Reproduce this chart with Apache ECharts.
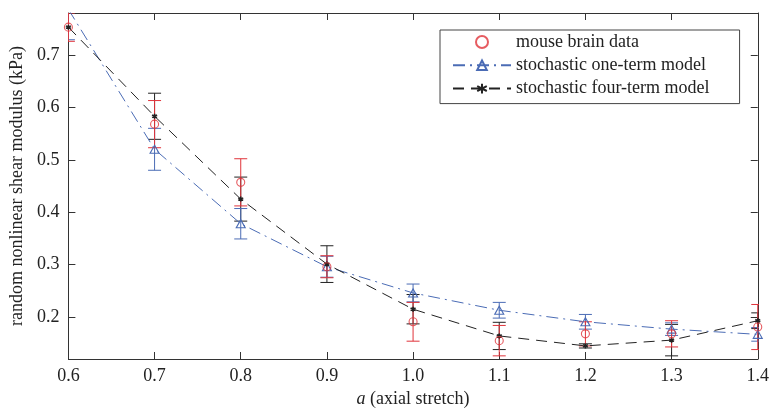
<!DOCTYPE html>
<html>
<head>
<meta charset="utf-8">
<script src="https://cdn.jsdelivr.net/npm/echarts@6/dist/echarts.min.js"></script>
<style>html,body{margin:0;padding:0;background:#fff;}#c{width:772px;height:413px;}</style>
</head>
<body>
<div id="c"></div>
<script>
const xVals = [0.6, 0.7, 0.8, 0.9, 1.0, 1.1, 1.2, 1.3, 1.4];
const dataMean = [0.753, 0.568, 0.457, 0.296, 0.191, 0.155, 0.168, 0.168, 0.181];
const dataErr  = [0.027, 0.045, 0.045, 0.021, 0.037, 0.029, 0.023, 0.025, 0.043];
const oneMean  = [0.787, 0.520, 0.378, 0.296, 0.246, 0.213, 0.191, 0.177, 0.167];
const oneErr   = [0.058, 0.040, 0.029, 0.020, 0.017, 0.015, 0.014, 0.012, 0.013];
const fourMean = [0.753, 0.583, 0.425, 0.301, 0.215, 0.164, 0.145, 0.156, 0.193];
const fourErr  = [0.000, 0.044, 0.042, 0.035, 0.028, 0.026, 0.004, 0.030, 0.015];
const xTicks = [0.6, 0.7, 0.8, 0.9, 1.0, 1.1, 1.2, 1.3, 1.4];
const yTicks = [0.2, 0.3, 0.4, 0.5, 0.6, 0.7];

const RED = '#e0333a', BLUE = '#4b6cb5', BLACK = '#222222';
const FONT = 'Liberation Serif';
const ASTER = 'path://M0,-5L0,5M-4.33,-2.5L4.33,2.5M-4.33,2.5L4.33,-2.5';

function errSeries(color, means, errs) {
  const data = xVals.map((x, i) => [x, means[i] - errs[i], means[i] + errs[i], errs[i]]);
  return {
    type: 'custom', silent: true, clip: true, z: 1,
    data: data,
    encode: { x: 0, y: [1, 2] },
    renderItem: function (params, api) {
      if (api.value(3) <= 0) return null;
      const x = api.value(0);
      const p1 = api.coord([x, api.value(2)]);
      const p2 = api.coord([x, api.value(1)]);
      const hw = 6.5;
      const st = { stroke: color, lineWidth: 1 };
      return { type: 'group', children: [
        { type: 'line', shape: { x1: p1[0], y1: p1[1], x2: p2[0], y2: p2[1] }, style: st },
        { type: 'line', shape: { x1: p1[0] - hw, y1: p1[1], x2: p1[0] + hw, y2: p1[1] }, style: st },
        { type: 'line', shape: { x1: p2[0] - hw, y1: p2[1], x2: p2[0] + hw, y2: p2[1] }, style: st }
      ]};
    }
  };
}

const axisCommon = {
  axisLine: { show: true, lineStyle: { color: '#333', width: 1 } },
  splitLine: { show: false }
};
const fmt = v => Number(v).toFixed(1);

const option = {
  backgroundColor: '#fff',
  animation: false,
  grid: { left: 63, right: 12, top: 13, bottom: 54 },
  legend: {
    data: ['mouse brain data', 'stochastic one-term model', 'stochastic four-term model'],
    orient: 'vertical',
    left: 440, top: 30,
    padding: [1, 30, 4, 12],
    itemWidth: 58, itemHeight: 12, itemGap: 1.3,
    backgroundColor: '#fff',
    borderColor: '#444', borderWidth: 1,
    textStyle: { fontFamily: FONT, fontSize: 18, color: '#222', lineHeight: 22 }
  },
  xAxis: [
    Object.assign({}, axisCommon, {
      type: 'value', min: 0.6, max: 1.4, position: 'bottom',
      name: '{i|a} (axial stretch)', nameLocation: 'middle', nameGap: 29,
      nameTextStyle: { fontFamily: FONT, fontSize: 18, color: '#222', rich: { i: { fontStyle: 'italic', fontFamily: FONT, fontSize: 18, color: '#222' } } },
      axisTick: { show: true, inside: true, length: 7, lineStyle: { color: '#333' }, customValues: xTicks },
      axisLabel: { fontFamily: FONT, fontSize: 18, color: '#222', margin: 8, formatter: fmt, customValues: xTicks }
    }),
    Object.assign({}, axisCommon, {
      type: 'value', min: 0.6, max: 1.4, position: 'top',
      axisTick: { show: true, inside: true, length: 7, lineStyle: { color: '#333' }, customValues: xTicks },
      axisLabel: { show: false, customValues: xTicks }
    })
  ],
  yAxis: [
    Object.assign({}, axisCommon, {
      type: 'value', min: 0.12, max: 0.78, position: 'left',
      name: 'random nonlinear shear modulus (kPa)', nameLocation: 'middle', nameGap: 40,
      nameTextStyle: { fontFamily: FONT, fontSize: 18, color: '#222' },
      axisTick: { show: true, inside: true, length: 7, lineStyle: { color: '#333' }, customValues: yTicks },
      axisLabel: { fontFamily: FONT, fontSize: 18, color: '#222', margin: 9, formatter: fmt, customValues: yTicks }
    }),
    Object.assign({}, axisCommon, {
      type: 'value', min: 0.12, max: 0.78, position: 'right',
      axisTick: { show: true, inside: true, length: 7, lineStyle: { color: '#333' }, customValues: yTicks },
      axisLabel: { show: false, customValues: yTicks }
    })
  ],
  series: [
    errSeries(BLACK, fourMean, fourErr),
    errSeries(BLUE, oneMean, oneErr),
    errSeries(RED, dataMean, dataErr),
    {
      name: 'stochastic one-term model', type: 'line', z: 3,
      data: xVals.map((x, i) => [x, oneMean[i]]),
      symbol: 'triangle', symbolSize: [9, 8], showSymbol: true,
      lineStyle: { color: BLUE, width: 1, type: [12, 5, 2, 5] },
      itemStyle: { color: 'rgba(0,0,0,0)', borderColor: BLUE, borderWidth: 1.1 },
      clip: true
    },
    {
      name: 'stochastic four-term model', type: 'line', z: 3,
      data: xVals.map((x, i) => [x, fourMean[i]]),
      symbol: ASTER, symbolSize: 5, showSymbol: true,
      lineStyle: { color: BLACK, width: 1, type: [11, 7] },
      itemStyle: { color: BLACK, borderColor: BLACK, borderWidth: 1.6 },
      clip: true
    },
    {
      name: 'mouse brain data', type: 'scatter', z: 4,
      data: xVals.map((x, i) => [x, dataMean[i]]),
      symbol: 'circle', symbolSize: 8,
      itemStyle: { color: 'rgba(0,0,0,0)', borderColor: RED, borderWidth: 1.1 },
      clip: true
    }
  ]
};
const chart = echarts.init(document.getElementById('c'), null, { renderer: 'canvas' });
chart.setOption(option);
</script>
</body>
</html>
